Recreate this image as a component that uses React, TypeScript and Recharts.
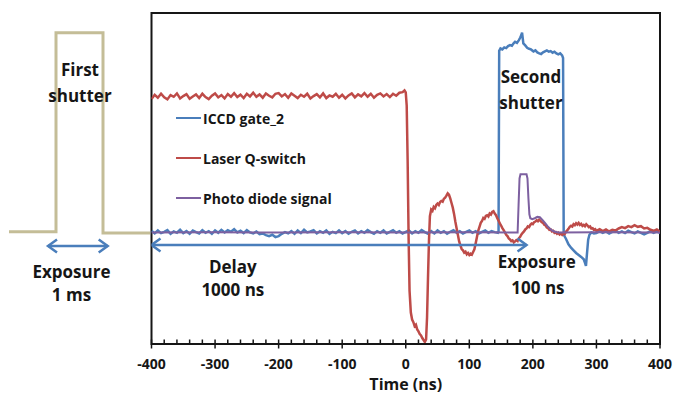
import { LineChart, Line, XAxis, YAxis, ReferenceArea, ReferenceDot, Legend } from "recharts";

const FONT = "'Open Sans', 'DejaVu Sans', sans-serif";
const INK = "#161616";
const BLUE = "#4A7EBB";
const RED = "#BE4B48";
const PURPLE = "#7D60A0";
const TAN = "#C4BD97";

// time axis, ns
const timeTicks = [-400, -300, -200, -100, 0, 100, 200, 300, 400];
const minorStep = 20;
const minorTicks = Array.from({ length: 41 }, (_, i) => -400 + i * minorStep);

// ICCD gate_2 — baseline sampled every 5 ns from -400 to 145 ns
const gateBaseline = [
  34.2, 33.4, 34.3, 33.5, 33.9, 34.4, 33.3, 34.0, 33.6, 34.5, 33.5, 34.1, 33.3, 34.3, 33.8, 33.4, 34.4, 33.6, 34.1, 33.3,
  34.3, 33.6, 34.5, 33.7, 34.4, 33.9, 34.7, 33.7, 34.2, 33.5, 34.4, 33.7, 33.4, 34.0, 33.2, 33.4, 32.9, 32.6, 33.0, 32.3,
  32.6, 33.3, 33.8, 33.4, 34.1, 33.3, 34.3, 33.5, 34.5, 33.7, 34.0, 34.4, 33.4, 34.1, 33.6, 34.3, 33.3, 33.9, 33.5, 34.3,
  33.5, 34.1, 33.3, 33.9, 34.3, 33.4, 34.1, 33.6, 34.4, 33.8, 33.3, 34.1, 33.6, 34.3, 33.4, 33.9, 34.4, 33.6, 34.1, 33.4,
  33.9, 34.3, 33.4, 34.1, 33.6, 34.4, 33.8, 33.3, 34.1, 33.4, 34.3, 33.6, 34.1, 33.3, 33.9, 34.4, 33.6, 34.1, 33.4, 33.9,
  34.3, 33.6, 34.1, 33.4, 33.9, 34.3, 33.6, 34.1, 33.8, 33.6,
];
// gate open (second shutter), then the undershoot after it closes
const gatePulse: [number, number][] = [
  [146, 33.9], [147, 88.6], [149, 89.3], [152, 89.0], [155, 89.6], [158, 89.4], [161, 90.0], [164, 90.3],
  [167, 90.1], [170, 90.9], [172, 91.3], [175, 91.0], [178, 91.8], [180, 92.5], [182, 93.4], [183, 94.1],
  [185, 90.8], [188, 90.2], [191, 89.5], [194, 89.2], [197, 89.0], [201, 88.4], [204, 88.7], [207, 88.1],
  [210, 87.8], [213, 87.6], [216, 88.1], [219, 88.4], [222, 88.7], [225, 88.3], [228, 88.5], [231, 88.0],
  [234, 88.3], [237, 87.8], [240, 87.5], [243, 87.8], [246, 87.2], [247.5, 86.4], [248.5, 33.0], [252, 31.8],
  [256, 30.1], [260, 29.1], [264, 28.3], [268, 27.5], [272, 26.9], [276, 26.3], [280, 25.6], [282, 24.5],
  [283.5, 23.6], [285, 27.0], [287, 31.5], [289, 33.0], [292, 33.7], [296, 33.4],
];
// from 300 to 400 ns, every 5 ns
const gateTail = [
  33.5, 34.1, 33.6, 34.0, 33.4, 33.9, 34.3, 33.6, 34.0, 33.5, 34.2, 33.8, 33.4, 34.0, 33.6, 33.1, 33.6, 34.1, 33.6, 34.0, 33.6,
];

// Laser Q-switch — plateau sampled every 5 ns from -400 to -5 ns
const laserPlateau = [
  74.0, 75.3, 74.4, 75.6, 74.5, 73.9, 75.2, 74.7, 75.7, 74.2, 74.9, 75.5, 74.1, 74.8, 75.4, 74.3, 75.6, 74.6, 74.0, 75.0,
  75.7, 74.5, 75.2, 74.2, 75.5, 74.7, 75.8, 74.6, 75.3, 74.3, 75.6, 74.8, 75.9, 74.7, 75.4, 74.4, 75.7, 75.0, 74.5, 75.6,
  75.8, 74.8, 75.5, 74.4, 75.7, 75.0, 74.3, 75.3, 74.7, 75.6, 74.2, 74.9, 75.5, 74.5, 75.7, 74.3, 75.1, 74.7, 75.6, 74.4,
  75.3, 74.2, 75.1, 75.7, 74.5, 75.4, 74.8, 75.8, 74.7, 75.6, 74.4, 75.3, 75.7, 74.8, 75.5, 74.6, 75.6, 75.0, 75.9, 76.1,
];
// switch-off, ringing, settling
const laserPulse: [number, number][] = [
  [-2, 76.6], [0, 76.0], [1.5, 72], [3, 55], [4.5, 32], [6, 16], [8, 9.5], [10, 7.4], [12, 6.6], [14, 5.4],
  [16, 5.8], [18, 4.4], [20, 3.8], [22, 3.0], [24, 2.6], [26, 1.8], [28, 1.2], [30, 0.6], [32, 1.4], [33.5, 8],
  [35, 20], [36.5, 31], [38, 38.6], [40, 40.6], [42, 40.2], [44, 41.4], [46, 41.0], [48, 42.0], [50, 42.4], [52, 42.0],
  [54, 42.9], [56, 43.2], [58, 43.0], [60, 43.9], [62, 44.2], [64, 44.8], [66, 45.5], [68, 45.1], [70, 44.0], [72, 42.6],
  [74, 41.2], [76, 39.3], [78, 37.0], [80, 35.0], [82, 33.0], [84, 31.0], [86, 29.8], [88, 28.7], [90, 28.3], [92, 27.6],
  [94, 27.9], [96, 27.1], [98, 27.5], [100, 26.9], [102, 27.3], [104, 27.0], [106, 27.8], [108, 28.6], [110, 30.4], [112, 32.3],
  [114, 34.2], [116, 35.4], [118, 36.6], [120, 37.2], [122, 38.1], [124, 37.8], [126, 38.7], [128, 38.9], [130, 38.5], [132, 39.4],
  [134, 39.1], [136, 39.9], [138, 40.1], [140, 39.4], [142, 38.9], [144, 38.0], [146, 37.3], [148, 36.4], [150, 35.8], [152, 35.0],
  [154, 34.4], [156, 33.7], [158, 33.0], [160, 32.6], [162, 31.9], [164, 31.6], [166, 31.1], [168, 31.3], [170, 30.7], [172, 31.0],
  [174, 31.4], [176, 31.1], [178, 32.0], [180, 32.4], [182, 33.1], [184, 33.6], [186, 34.0], [188, 34.6], [190, 34.9], [192, 35.5],
  [194, 35.3], [196, 36.0], [198, 36.4], [200, 36.2], [202, 36.8], [204, 37.0], [206, 37.4], [208, 37.1], [210, 37.6], [212, 37.2],
  [214, 36.8], [216, 36.6], [218, 36.0], [220, 35.8], [222, 35.2], [224, 35.0], [226, 34.5], [228, 34.6], [230, 34.0], [232, 34.2],
  [234, 33.6], [236, 33.8], [238, 33.3], [240, 33.6], [242, 33.1], [244, 33.4], [246, 33.0], [248, 33.5], [250, 33.2], [252, 33.9],
  [254, 34.3], [256, 34.8], [258, 35.4], [260, 35.7], [262, 35.5], [264, 36.2], [266, 35.9], [268, 36.5], [270, 36.1], [272, 36.6],
  [274, 36.0], [276, 36.3], [278, 35.7], [280, 36.0], [282, 35.6], [284, 36.2], [286, 35.8], [288, 35.3], [290, 35.5], [292, 34.9],
  [294, 35.0], [296, 34.5], [298, 34.7],
];
// from 300 to 400 ns, every 5 ns
const laserTail = [
  34.2, 34.7, 34.1, 34.6, 34.0, 34.5, 34.3, 34.9, 35.3, 35.0, 35.6, 35.3, 35.9, 35.4, 35.6, 34.9, 35.1, 34.5, 34.2, 34.6, 33.9,
];

// Photo diode signal
const photoDiode: [number, number][] = [
  [-400, 33.7], [-300, 33.75], [-200, 33.7], [-100, 33.75], [0, 33.7], [100, 33.75], [176, 33.7], [177.5, 42],
  [179, 50.0], [180.5, 51.3], [190, 51.3], [191.5, 50.0], [193, 44], [194.5, 39.2], [196, 38.0], [199, 37.7],
  [203, 38.0], [207, 38.4], [211, 38.3], [215, 37.5], [219, 36.6], [223, 35.6], [227, 34.8], [231, 34.2],
  [235, 33.9], [240, 33.7], [300, 33.75], [400, 33.7],
];

// first shutter, time in ms
const firstShutter: [number, number][] = [[-1, 33.9], [0, 33.9], [0, 94.0], [1, 94.0], [1, 33.5], [2, 33.5]];
const exposureArrowMs: [number, number][] = [[-0.17, 29.6], [1.1, 29.6]];
const delayArrowNs: [number, number][] = [[-400, 29.9], [190, 29.9]];

const sampled = (start: number, step: number, values: number[]) =>
  values.map((v, i) => ({ t: start + i * step, v }));
const pairs = (p: [number, number][]) => p.map(([t, v]) => ({ t, v }));

const gateData = [...sampled(-400, 5, gateBaseline), ...pairs(gatePulse), ...sampled(300, 5, gateTail)];
const laserData = [...sampled(-400, 5, laserPlateau), ...pairs(laserPulse), ...sampled(300, 5, laserTail)];
const photoData = pairs(photoDiode);

const arrowHead = (props: any) => {
  const { cx, cy, index } = props;
  const dir = index === 0 ? -1 : 1;
  return (
    <path
      key={`head-${index}`}
      d={`M${cx - dir * 9},${cy - 6.5} L${cx},${cy} L${cx - dir * 9},${cy + 6.5}`}
      fill="none"
      stroke={BLUE}
      strokeWidth={2.5}
      strokeLinejoin="miter"
    />
  );
};

const TimeTick = (props: any) => {
  const { x, y, payload } = props;
  const major = timeTicks.includes(payload.value);
  return (
    <g>
      <line x1={x} x2={x} y1={y - 4.5} y2={major ? y + 4.5 : y} stroke={INK} strokeWidth={1.5} />
      {major && (
        <text x={x} y={y + 25} textAnchor="middle" fontFamily={FONT} fontSize={14} fontWeight={700} fill={INK}>
          {payload.value}
        </text>
      )}
    </g>
  );
};

const note = (key: string, t: number, v: number, text: string) => (
  <ReferenceDot
    key={key}
    x={t}
    y={v}
    r={0}
    fill="none"
    stroke="none"
    label={{ value: text, position: "center", fill: INK, fontSize: 17, fontWeight: 700, fontFamily: FONT }}
  />
);

const renderLegend = (props: any) => {
  const items = (props.payload || []).filter((p: any) => p.type !== "none");
  return (
    <div>
      {items.map((p: any) => (
        <div key={p.value} style={{ display: "flex", alignItems: "center", height: 40 }}>
          <span style={{ display: "inline-block", width: 25, height: 2, background: p.color, marginRight: 2 }} />
          <span style={{ fontFamily: FONT, fontSize: 14, fontWeight: 700, color: INK, whiteSpace: "nowrap" }}>
            {p.value}
          </span>
        </div>
      ))}
    </div>
  );
};

export default function App() {
  return (
    <div style={{ position: "absolute", left: 0, top: 0, width: 673, height: 393, background: "#fff", overflow: "hidden" }}>
      {/* first shutter, drawn on its own ms scale */}
      <div style={{ position: "absolute", left: 0, top: 0 }}>
        <LineChart width={160} height={393} margin={{ top: 13, right: 10, bottom: 49, left: 9 }}>
          <XAxis hide type="number" dataKey="t" domain={[-1, 2]} allowDataOverflow />
          <YAxis hide type="number" domain={[0, 100]} allowDataOverflow />
          <Line data={pairs(firstShutter)} dataKey="v" stroke={TAN} strokeWidth={3} dot={false} activeDot={false} isAnimationActive={false} />
          <Line data={pairs(exposureArrowMs)} dataKey="v" stroke={BLUE} strokeWidth={2.5} dot={arrowHead} activeDot={false} isAnimationActive={false} />
          {note("first-1", 0.51, 82.8, "First")}
          {note("first-2", 0.51, 75.0, "shutter")}
          {note("exp-1", 0.33, 21.9, "Exposure")}
          {note("exp-2", 0.33, 14.8, "1 ms")}
        </LineChart>
      </div>

      <div style={{ position: "absolute", left: 0, top: 0 }}>
        <LineChart width={673} height={393} margin={{ top: 13, right: 13, bottom: 0, left: 151.5 }}>
          <XAxis
            type="number"
            dataKey="t"
            domain={[-400, 400]}
            ticks={minorTicks}
            interval={0}
            allowDataOverflow
            tick={(p: any) => <TimeTick {...p} />}
            tickLine={false}
            tickSize={0}
            tickMargin={0}
            axisLine={{ stroke: INK, strokeWidth: 2 }}
            height={49}
            label={{
              value: "Time (ns)",
              content: (p: any) => {
                const vb = p.viewBox;
                return (
                  <text x={vb.x + vb.width / 2} y={vb.y + 45.5} textAnchor="middle" fontFamily={FONT} fontSize={16} fontWeight={700} fill={INK}>
                    Time (ns)
                  </text>
                );
              },
            }}
          />
          <YAxis hide type="number" domain={[0, 100]} allowDataOverflow />
          <ReferenceArea x1={-400} x2={400} y1={0} y2={100} fill="none" stroke={INK} strokeWidth={2} />
          <Legend layout="horizontal" verticalAlign="middle" align="center" wrapperStyle={{ left: 176, top: 98, width: 200, height: 120 }} content={renderLegend} />
          <Line name="ICCD gate_2" data={gateData} dataKey="v" stroke={BLUE} strokeWidth={2.5} dot={false} activeDot={false} isAnimationActive={false} />
          <Line name="Laser Q-switch" data={laserData} dataKey="v" stroke={RED} strokeWidth={2.5} dot={false} activeDot={false} isAnimationActive={false} />
          <Line name="Photo diode signal" data={photoData} dataKey="v" stroke={PURPLE} strokeWidth={2} dot={false} activeDot={false} isAnimationActive={false} />
          <Line data={pairs(delayArrowNs)} dataKey="v" legendType="none" stroke={BLUE} strokeWidth={2.5} dot={arrowHead} activeDot={false} isAnimationActive={false} />
          {note("second-1", 197, 80.6, "Second")}
          {note("second-2", 197, 72.7, "shutter")}
          {note("delay-1", -272, 23.4, "Delay")}
          {note("delay-2", -272, 16.3, "1000 ns")}
          {note("exp100-1", 206, 24.9, "Exposure")}
          {note("exp100-2", 208, 16.8, "100 ns")}
        </LineChart>
      </div>
    </div>
  );
}
